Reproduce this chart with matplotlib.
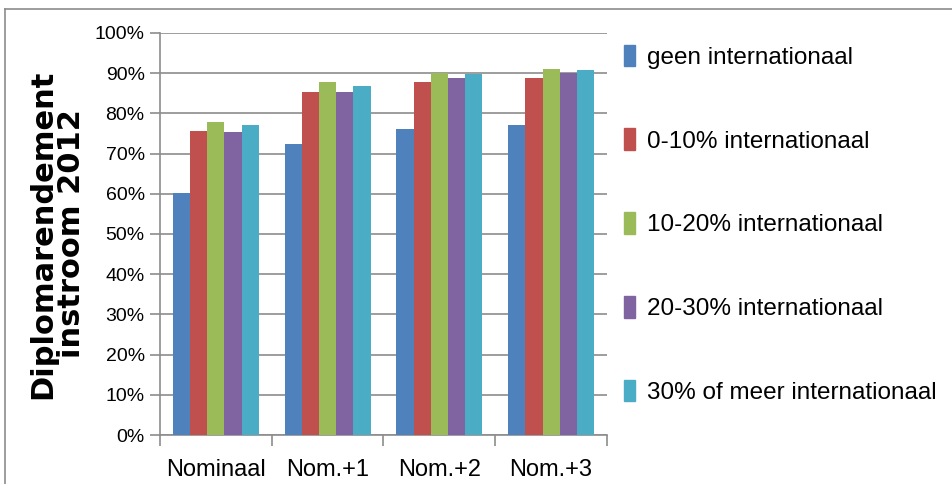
import numpy as np
import matplotlib.pyplot as plt
from matplotlib.lines import Line2D
from matplotlib.patches import Patch

categories = ["Nominaal", "Nom.+1", "Nom.+2", "Nom.+3"]
series = ["geen internationaal", "0-10% internationaal", "10-20% internationaal",
          "20-30% internationaal", "30% of meer internationaal"]
geen = [60.2, 72.5, 76.2, 77.2]
p0_10 = [75.5, 85.4, 87.8, 88.7]
p10_20 = [77.8, 87.7, 90.0, 91.1]
p20_30 = [75.3, 85.2, 88.7, 90.0]
p30_plus = [77.2, 86.8, 89.7, 90.7]
values = [geen, p0_10, p10_20, p20_30, p30_plus]
colors = ["#4F81BD", "#C0504D", "#9BBB59", "#8064A2", "#4BACC6"]

plt.rcParams['font.family'] = ['Liberation Sans', 'DejaVu Sans']

fig = plt.figure(figsize=(9.53, 4.84), dpi=100)
ax = fig.add_axes([160 / 953, 49 / 484, 447 / 953, 402 / 484])

x = np.arange(len(categories))
w = 1 / 6.5
for i, (vals, col) in enumerate(zip(values, colors)):
    ax.bar(x - 2 * w + i * w, vals, width=w, color=col, zorder=3, label=series[i])

ax.set_xlim(-0.5, 3.5)
ax.set_ylim(0, 100)
ax.set_yticks(np.arange(0, 101, 10))
ax.set_yticklabels([f"{v}%" for v in range(0, 101, 10)], fontsize=14)
ax.yaxis.grid(True, color="#8c8c8c", linewidth=1.2, zorder=0)
ax.set_xticks(x)
ax.set_xticklabels(categories, fontsize=17)
ax.set_xticks(np.arange(-0.5, 4, 1), minor=True)
ax.tick_params(axis="x", which="major", length=0, pad=17)
ax.tick_params(axis="x", which="minor", length=8, color="#8c8c8c", width=1.2)
ax.tick_params(axis="y", length=7, color="#8c8c8c", width=1.2, pad=4)
for s in ["top", "right"]:
    ax.spines[s].set_visible(False)
for s in ["left", "bottom"]:
    ax.spines[s].set_color("#8c8c8c")
    ax.spines[s].set_linewidth(1.2)

ax.set_ylabel("Diplomarendement\ninstroom 2012", fontsize=22, fontweight="bold",
              family=["DejaVu Sans"], labelpad=6, linespacing=1.0)

handles = [Patch(color=c) for c in colors]
fig.legend(handles, series, loc="upper left", bbox_to_anchor=(614 / 953, 1 - 35 / 484),
           frameon=False, fontsize=17.5, handlelength=0.45, handleheight=1.0,
           handletextpad=0.5, labelspacing=2.45, borderaxespad=0)

fig.add_artist(Line2D([5 / 953, 1], [1 - 9 / 484, 1 - 9 / 484], color="#8c8c8c", lw=1.2))
fig.add_artist(Line2D([5 / 953, 5 / 953], [0, 1 - 9 / 484], color="#8c8c8c", lw=1.2))

fig.savefig("out.png", dpi=100)
